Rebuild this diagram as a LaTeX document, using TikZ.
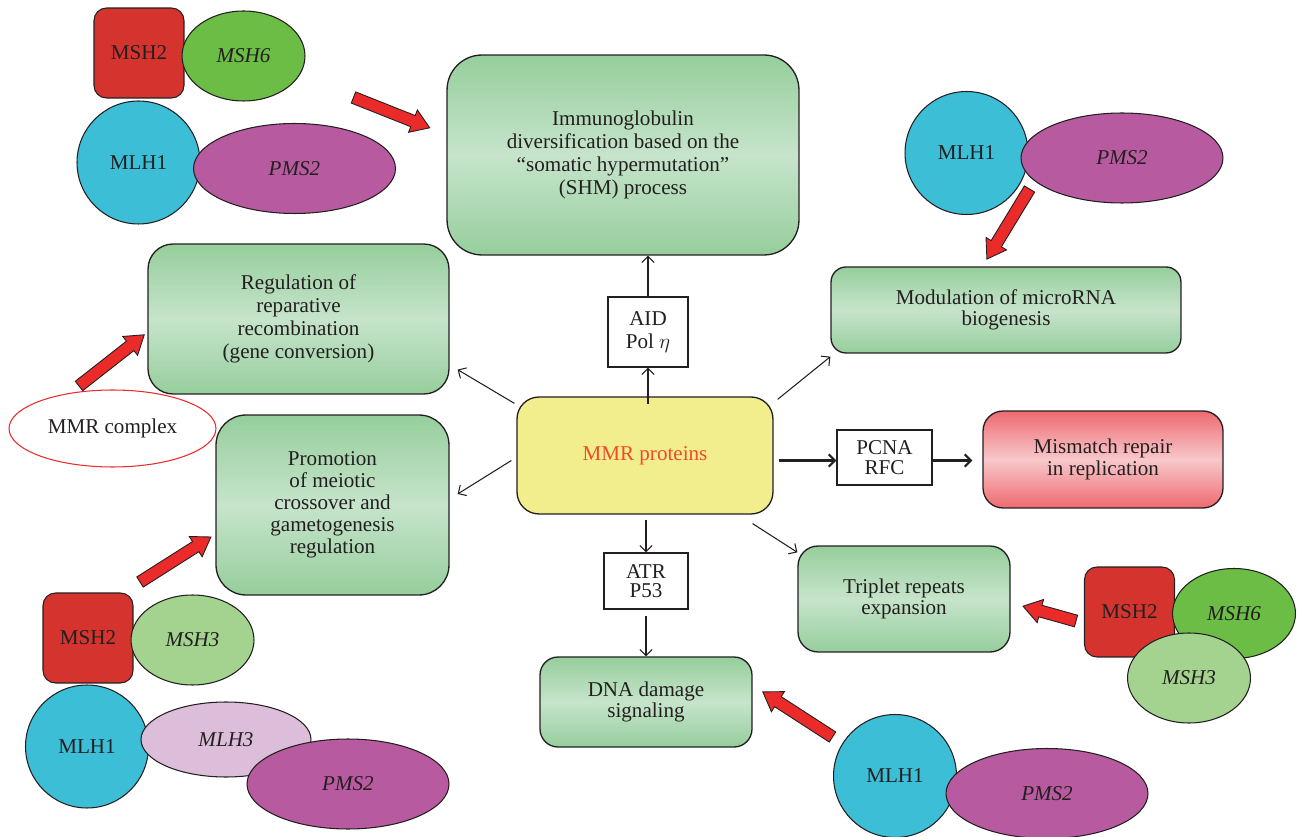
\documentclass[tikz,border=0pt]{standalone}
\usepackage{fontspec}
\setmainfont{Liberation Serif}
\usetikzlibrary{shapes.geometric,arrows.meta,calc}

\definecolor{inkgray}{HTML}{231F20}
\definecolor{boxgreen}{HTML}{96CE9C}
\definecolor{boxlight}{HTML}{C6E4CB}
\definecolor{boxred}{HTML}{EE6A70}
\definecolor{boxpink}{HTML}{F8C8CB}
\definecolor{hubyellow}{HTML}{F2EE8E}
\definecolor{huborange}{HTML}{EF4A2C}
\definecolor{msh2red}{HTML}{D5342E}
\definecolor{msh6green}{HTML}{6CBD45}
\definecolor{msh3green}{HTML}{A4D390}
\definecolor{mlh1cyan}{HTML}{3BBED6}
\definecolor{pms2purple}{HTML}{B85AA0}
\definecolor{mlh3lilac}{HTML}{DCBEDB}
\definecolor{arrowred}{HTML}{EB2A2A}

\newcommand{\figfont}{\fontsize{12}{12.2}\selectfont}
\newcommand{\bigfont}{\fontsize{12}{13.2}\selectfont}
\newcommand{\RedArrow}[3]{%
	\begin{scope}[shift={(#1)},rotate=#2]
		\draw[BlockArrow] (0,6) -- ({#3-18},6) -- ({#3-18},12) -- (#3,0) -- ({#3-18},-12) -- ({#3-18},-6) -- (0,-6) -- cycle;
	\end{scope}}

\begin{document}
\begin{tikzpicture}[x=0.02cm,y=-0.02cm]
			\tikzstyle{Box}        = [rectangle, draw=inkgray, line width=0.75pt, text=inkgray, align=center, inner sep=0pt, font=\figfont, top color=boxgreen, bottom color=boxgreen, middle color=boxlight]
			\tikzstyle{RedBox}     = [Box, top color=boxred, bottom color=boxred, middle color=boxpink]
			\tikzstyle{Hub}        = [rectangle, draw=inkgray, line width=0.75pt, fill=hubyellow, text=huborange, font=\figfont, rounded corners=0.44cm, minimum width=5.12cm, minimum height=2.34cm]
			\tikzstyle{Tag}        = [rectangle, draw=inkgray, line width=0.7pt, fill=white, text=inkgray, align=center, inner sep=0pt, font=\figfont]
			\tikzstyle{Square}     = [rectangle, rounded corners=0.25cm, minimum size=1.8cm, draw=inkgray, line width=0.6pt, fill=msh2red, text=inkgray, inner sep=0pt, font=\figfont]
			\tikzstyle{Round}      = [circle, minimum size=2.46cm, draw=inkgray, line width=0.6pt, fill=mlh1cyan, text=inkgray, inner sep=0pt, font=\figfont]
			\tikzstyle{Oval}       = [ellipse, minimum width=4.04cm, minimum height=1.8cm, draw=inkgray, line width=0.6pt, fill=pms2purple, text=inkgray, inner sep=0pt, font=\figfont\itshape]
			\tikzstyle{SmallOval}  = [Oval, minimum width=2.46cm, fill=msh6green]
			\tikzstyle{Link}       = [-{Straight Barb[length=3.5pt,width=7pt]}, line width=0.6pt, draw=inkgray]
			\tikzstyle{ThickLink}  = [Link, line width=1.2pt]
			\tikzstyle{BlockArrow} = [draw=inkgray, line width=0.5pt, fill=arrowred, line join=miter]

			\useasboundingbox (0,0) rectangle (1298,837);

			\node[Box, rounded corners=0.7cm, minimum width=7.04cm, minimum height=4cm, font=\bigfont] (shm) at (623,155) {Immunoglobulin\\diversification based on the\\“somatic hypermutation”\\(SHM) process};
			\node[Box, rounded corners=0.5cm, minimum width=6.02cm, minimum height=3cm, font=\bigfont] (reg) at (298.5,319) {Regulation of\\reparative\\recombination\\(gene conversion)};
			\node[Box, rounded corners=0.6cm, minimum width=4.66cm, minimum height=3.6cm, font=\fontsize{12}{12.5}\selectfont] (prom) at (332.5,505) {Promotion\\of meiotic\\crossover and\\gametogenesis\\regulation};
			\node[Box, rounded corners=0.3cm, minimum width=7cm, minimum height=1.72cm] (mod) at (1006,310) {Modulation of microRNA\\biogenesis};
			\node[RedBox, rounded corners=0.4cm, minimum width=4.8cm, minimum height=1.94cm] (mis) at (1103,459.5) {Mismatch repair\\in replication};
			\node[Box, rounded corners=0.4cm, minimum width=4.24cm, minimum height=2.12cm] (tri) at (904,599) {Triplet repeats\\expansion};
			\node[Box, rounded corners=0.36cm, minimum width=4.24cm, minimum height=1.8cm] (dna) at (646,702) {DNA damage\\signaling};
			\node[Hub] (mmr) at (645,455.5) {MMR proteins};
			\node[Tag, minimum width=1.6cm, minimum height=1.4cm, font=\bigfont] (aid) at (648,332) {AID\\Pol $\eta$};
			\node[Tag, minimum width=1.9cm, minimum height=1.1cm, font=\fontsize{12}{11.4}\selectfont] (pcna) at (884.5,457.5) {PCNA\\RFC};
			\node[Tag, minimum width=1.68cm, minimum height=1.12cm, font=\fontsize{12}{11}\selectfont] (atr) at (646,581) {ATR\\P53};
			\node[ellipse, draw=arrowred, line width=0.6pt, fill=white, text=inkgray, font=\figfont, minimum width=4.14cm, minimum height=1.54cm] (cplx) at (112.5,428.5) {MMR complex};

			\draw[Link] ([yshift=-0.16cm]aid.south |- mmr.north) -- (aid.south);
			\draw[Link] (aid.north) -- (aid.north |- shm.south);
			\draw[Link] ($(mmr.north west)+(-2,7)$) -- ($(reg.south east)+(8,-25)$);
			\draw[Link] ($(mmr.west)+(-5,5)$) -- ($(prom.east)+(8,-11)$);
			\draw[Link] ($(mmr.north east)+(4,3)$) -- ($(mod.south west)+(0,3)$);
			\draw[ThickLink] ($(mmr.east)+(5,5)$) -- ($(pcna.west)+(0,3)$);
			\draw[ThickLink] ($(pcna.east)+(0,3)$) -- ($(mis.west)+(-10,1)$);
			\draw[Link] ([yshift=-0.1cm]atr.north |- mmr.south) -- (atr.north);
			\draw[Link] ([yshift=-0.12cm]atr.south) -- (atr.south |- dna.north);
			\draw[Link] ($(mmr.south east)+(-21,9)$) -- ($(tri.north west)+(0,7)$);

			\node[Square] (tlMSH2) at (139,53) {MSH2};
			\node[SmallOval] (tlMSH6) at (243.5,56) {MSH6};
			\node[Round] (tlMLH1) at (138.5,162.5) {MLH1};
			\node[Oval] (tlPMS2) at (294.5,168.5) {PMS2};

			\node[Round] (trMLH1) at (966.5,153) {MLH1};
			\node[Oval] (trPMS2) at (1122,158) {PMS2};

			\node[Square] (blMSH2) at (88,638) {MSH2};
			\node[SmallOval, fill=msh3green] (blMSH3) at (192.5,640) {MSH3};
			\node[Round] (blMLH1) at (87,746.5) {MLH1};
			\node[Oval, fill=mlh3lilac, minimum width=3.4cm, minimum height=1.5cm] (blMLH3) at (226,739.5) {MLH3};
			\node[Oval] (blPMS2) at (348,784) {PMS2};

			\node[Square] (brMSH2) at (1129.5,612) {MSH2};
			\node[SmallOval] (brMSH6) at (1234,613.5) {MSH6};
			\node[SmallOval, fill=msh3green] (brMSH3) at (1189,678) {MSH3};
			\node[Round] (brMLH1) at (895,776) {MLH1};
			\node[Oval] (brPMS2) at (1047,793.5) {PMS2};

			\RedArrow{353.5,97.5}{-21.7}{82}
			\RedArrow{1029.5,189}{-121.3}{82}
			\RedArrow{79,386}{38.1}{83}
			\RedArrow{140,582}{32.4}{84}
			\RedArrow{1076,621}{164.4}{55}
			\RedArrow{832.5,737}{147.1}{83}
		\end{tikzpicture}
\end{document}
